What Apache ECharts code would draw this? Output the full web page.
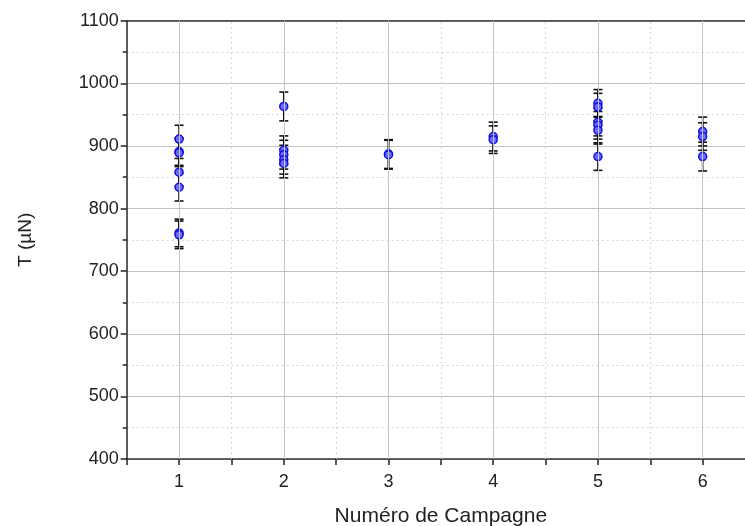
<!DOCTYPE html>
<html><head><meta charset="utf-8">
<script src="https://cdn.jsdelivr.net/npm/echarts@6/dist/echarts.min.js"></script>
<style>html,body{margin:0;padding:0;background:#fff}#c{width:745px;height:526px}</style>
</head><body><div id="c"></div>
<script>
// Data
const campaigns = [1,1,1,1,1,1,1, 2,2,2,2,2, 3,3, 4,4, 5,5,5,5,5,5, 6,6,6];
const thrust    = [911,891,889,858,834,761,758, 963,893,886,878,872, 887,886, 915,910, 968,962,938,933,925,883, 923,915,883];
const errors    = [22,22,22,22,22,22,22, 23,23,23,23,23, 23,23, 23,22, 22,22,22,22,22,22, 23,22,23];
const majorX = [1,2,3,4,5,6];
const minorX = [1.5,2.5,3.5,4.5,5.5];
const xLabel = 'Numéro de Campagne';
const yLabel = 'T (µN)';

const FONT = '"Liberation Sans", Arial, sans-serif';
const points = campaigns.map((c,i)=>[c, thrust[i]]);
const bars = campaigns.map((c,i)=>[c, thrust[i]-errors[i], thrust[i]+errors[i]]);

const chart = echarts.init(document.getElementById('c'), null, {renderer:'canvas'});
chart.setOption({
  animation:false,
  backgroundColor:'#fff',
  grid:{left:126.7, width:628.3, top:20.7, bottom:67, containLabel:false, outerBoundsMode:'none'},
  xAxis:[{
    type:'value', min:0.5, max:6.5, interval:0.5,
    axisLine:{show:true, onZero:false, lineStyle:{color:'#333', width:1.6}},
    axisTick:{show:true, length:6, lineStyle:{color:'#222', width:1.5}},
    axisLabel:{fontFamily:FONT, fontSize:18, color:'#222', margin:14,
      formatter:v=> Number.isInteger(v) ? String(v) : ''},
    splitLine:{show:false},
    name:xLabel, nameLocation:'middle', nameGap:47,
    nameTextStyle:{fontFamily:FONT, fontSize:21, color:'#222'}
  },{
    type:'value', position:'top', min:0.5, max:6.5,
    axisLine:{show:true, onZero:false, lineStyle:{color:'#333', width:1.6}},
    axisTick:{show:false}, axisLabel:{show:false}, splitLine:{show:false}
  }],
  yAxis:{
    type:'value', min:400, max:1100, interval:100,
    axisLine:{show:true, onZero:false, lineStyle:{color:'#333', width:1.6}},
    axisTick:{show:true, length:6, lineStyle:{color:'#222', width:1.5}},
    minorTick:{show:true, splitNumber:2, length:4, lineStyle:{color:'#222', width:1.5}},
    axisLabel:{fontFamily:FONT, fontSize:18, color:'#222', margin:8, formatter:v=>String(v)},
    splitLine:{show:true, lineStyle:{color:'#c4c4c4', width:1}},
    minorSplitLine:{show:true, lineStyle:{color:'#d6d6d6', width:1, type:[2,3]}},
    name:yLabel, nameLocation:'middle', nameGap:91,
    nameTextStyle:{fontFamily:FONT, fontSize:19, color:'#222'}
  },
  series:[
    {type:'line', data:[], z:1, silent:true,
     markLine:{silent:true, symbol:'none', animation:false, label:{show:false},
       lineStyle:{color:'#c4c4c4', type:'solid', width:1},
       data: majorX.map(v=>({xAxis:v}))}},
    {type:'line', data:[], z:1, silent:true,
     markLine:{silent:true, symbol:'none', animation:false, label:{show:false},
       lineStyle:{color:'#d6d6d6', type:[2,3], width:1},
       data: minorX.map(v=>({xAxis:v}))}},
    {type:'custom', z:3, data:bars,
     renderItem:(params, api)=>{
       const x = api.value(0);
       const lo = api.coord([x, api.value(1)]);
       const hi = api.coord([x, api.value(2)]);
       const hw = 4.5;
       const st = {stroke:'#111', lineWidth:1.6};
       return {type:'group', children:[
         {type:'line', shape:{x1:lo[0], y1:lo[1], x2:hi[0], y2:hi[1]}, style:st},
         {type:'line', shape:{x1:lo[0]-hw, y1:lo[1], x2:lo[0]+hw, y2:lo[1]}, style:st},
         {type:'line', shape:{x1:hi[0]-hw, y1:hi[1], x2:hi[0]+hw, y2:hi[1]}, style:st}
       ]};
     }},
    {type:'scatter', z:4, data:points, symbol:'circle', symbolSize:8,
     itemStyle:{color:'#6a6aff', borderColor:'#1010d8', borderWidth:1.5, opacity:1}}
  ]
});
</script></body></html>
